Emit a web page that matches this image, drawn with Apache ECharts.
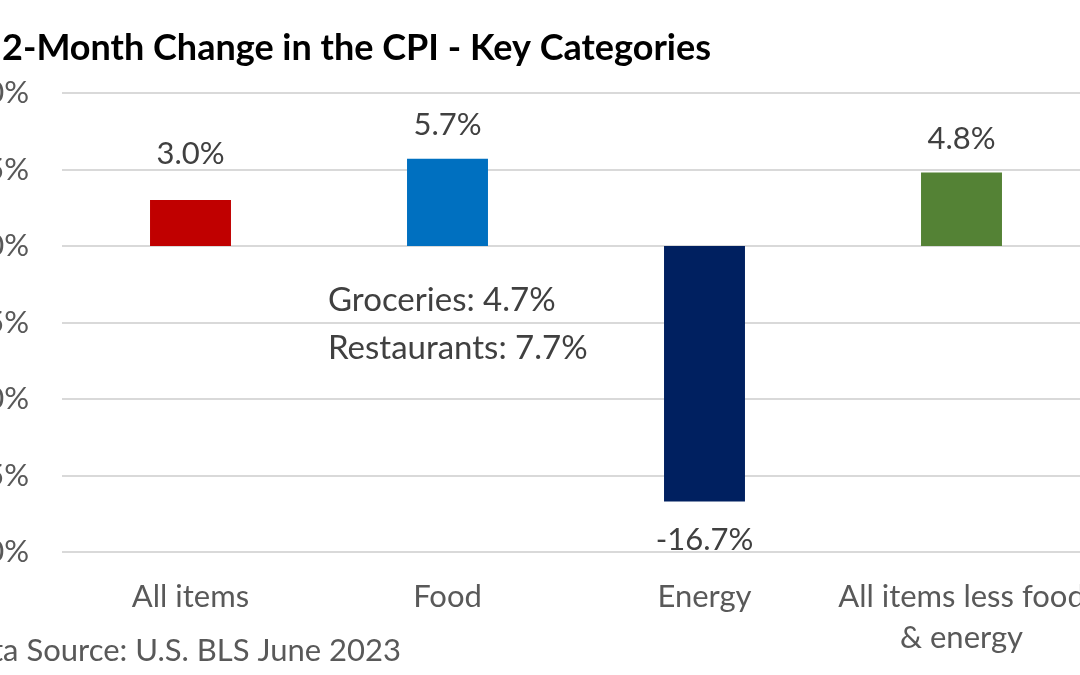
<!DOCTYPE html>
<html>
<head>
<meta charset="utf-8">
<script src="https://cdn.jsdelivr.net/npm/echarts@6/dist/echarts.min.js"></script>
<style>html,body{margin:0;padding:0;background:#fff}#c{width:1080px;height:675px}</style>
</head>
<body>
<div id="c"></div>
<script>
const categories = ['All items', 'Food', 'Energy', 'All items less food\n& energy'];
const values = [3.0, 5.7, -16.7, 4.8];
const colors = ['#C00000', '#0070C0', '#002060', '#548235'];
const yTicks = { min: -20, max: 10, interval: 5 };
const titleText = '12-Month Change in the CPI - Key Categories';
const sourceText = 'Data Source: U.S. BLS June 2023';
const noteLines = ['Groceries: 4.7%', 'Restaurants: 7.7%'];

const FONT = 'Lato';
const labelDist = [31, 18, 23, 18];
const chart = echarts.init(document.getElementById('c'));
chart.setOption({
  animation: false,
  textStyle: { fontFamily: FONT },
  graphic: [
    { type: 'text', x: 711, y: 48, style: { text: titleText, font: 'bold 36px ' + FONT, fill: '#000', align: 'right', verticalAlign: 'middle' } },
    { type: 'text', x: 328, y: 300, style: { text: noteLines[0], font: '33px ' + FONT, fill: '#404040', verticalAlign: 'middle' } },
    { type: 'text', x: 328, y: 348, style: { text: noteLines[1], font: '33px ' + FONT, fill: '#404040', verticalAlign: 'middle' } },
    { type: 'text', x: 401, y: 651, style: { text: sourceText, font: '31px ' + FONT, fill: '#595959', align: 'right', verticalAlign: 'middle' } }
  ],
  grid: { left: 62, width: 1028, top: 93, bottom: 123, containLabel: false, outerBoundsMode: 'none' },
  xAxis: {
    type: 'category',
    data: categories,
    axisLine: { show: false },
    axisTick: { show: false },
    axisLabel: { color: '#595959', fontSize: 31, fontFamily: FONT, margin: 24, lineHeight: 41, interval: 0 }
  },
  yAxis: {
    type: 'value',
    min: yTicks.min, max: yTicks.max, interval: yTicks.interval,
    axisLine: { show: false },
    axisTick: { show: false },
    splitLine: { lineStyle: { color: '#D9D9D9', width: 2 } },
    axisLabel: { color: '#595959', fontSize: 31, fontFamily: FONT, margin: 33, formatter: v => v + '%' }
  },
  series: [{
    type: 'bar',
    barWidth: '31.5%',
    data: values.map((v, i) => ({ value: v, itemStyle: { color: colors[i] },
      label: { position: v < 0 ? 'bottom' : 'top', distance: labelDist[i] } })),
    label: {
      show: true, color: '#404040', fontSize: 31, fontFamily: FONT,
      formatter: p => p.value.toFixed(1) + '%'
    }
  }]
});
</script>
</body>
</html>
